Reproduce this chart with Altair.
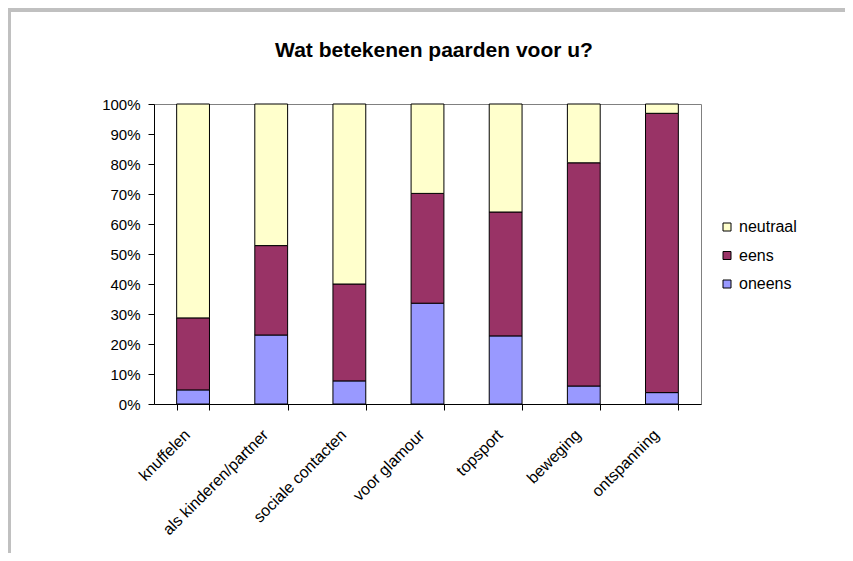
import altair as alt
import pandas as pd

categories = ["knuffelen", "als kinderen/partner", "sociale contacten", "voor glamour",
              "topsport", "beweging", "ontspanning"]
oneens = [4.7, 23.0, 7.7, 33.6, 22.7, 6.0, 3.8]
eens = [24.0, 29.8, 32.3, 36.6, 41.3, 74.4, 93.1]
neutraal = [71.3, 47.2, 60.0, 29.8, 36.0, 19.6, 3.1]
series_names = ["neutraal", "eens", "oneens"]
series_colors = ["#FFFFCC", "#993366", "#9999FF"]
y_ticks = [0, 0.1, 0.2, 0.3, 0.4, 0.5, 0.6, 0.7, 0.8, 0.9, 1.0]
title_text = "Wat betekenen paarden voor u?"

rows = []
for i, c in enumerate(categories):
    for order_idx, (name, vals) in enumerate([("oneens", oneens), ("eens", eens), ("neutraal", neutraal)]):
        rows.append({"cat": c, "series": name, "value": vals[i], "idx": order_idx})
df = pd.DataFrame(rows)

FONT = "Liberation Sans"
W, H = 547, 300

bars = alt.Chart(df).mark_bar(stroke="black", strokeWidth=1).encode(
    x=alt.X("cat:N", sort=categories,
            scale=alt.Scale(paddingInner=0.58, paddingOuter=0.29),
            axis=alt.Axis(title=None, labelAngle=-45, labelAlign="right", labelBaseline="middle",
                          tickBand="extent", tickSize=6, labelPadding=22, labelOffset=-6,
                          domainColor="black", tickColor="black", labelColor="black",
                          labelFont=FONT, labelFontSize=16)),
    y=alt.Y("value:Q", stack="normalize",
            scale=alt.Scale(domain=[0, 1], nice=False),
            axis=alt.Axis(title=None, values=y_ticks, format=".0%", grid=False,
                          tickSize=6, labelPadding=8, domainColor="black", tickColor="black",
                          labelColor="black", labelFont=FONT, labelFontSize=15)),
    color=alt.Color("series:N",
                    scale=alt.Scale(domain=series_names, range=series_colors),
                    legend=alt.Legend(title=None, orient="none", legendX=565, legendY=115,
                                      symbolType="square", symbolSize=64,
                                      symbolStrokeColor="black", symbolStrokeWidth=1,
                                      labelFont=FONT, labelFontSize=16, labelColor="black",
                                      labelOffset=4, rowPadding=12.5, padding=0)),
    order=alt.Order("idx:Q"),
)

one = pd.DataFrame({"t": [title_text]})

title = alt.Chart(one).mark_text(font=FONT, fontSize=21, fontWeight="bold", color="black",
                                 align="center", baseline="alphabetic").encode(
    x=alt.value(280), y=alt.value(-47), text="t:N")

left_border = alt.Chart(one).mark_rect(color="#c0c0c0").encode(
    x=alt.value(-146), x2=alt.value(-143), y=alt.value(-96), y2=alt.value(460))

top_strip = alt.Chart(one).mark_rect(color="#c0c0c0").encode(
    x=alt.value(-146), x2=alt.value(700), y=alt.value(-96), y2=alt.value(-92))

chart = alt.layer(left_border, top_strip, bars, title).properties(
    width=W, height=H,
    autosize=alt.AutoSizeParams(type="none"),
    padding={"left": 146, "top": 96, "right": 144, "bottom": 149},
    background="white",
).configure_view(stroke="#808080", strokeWidth=1)

chart.save("out.html", embed_options={"renderer": "svg", "actions": False})
